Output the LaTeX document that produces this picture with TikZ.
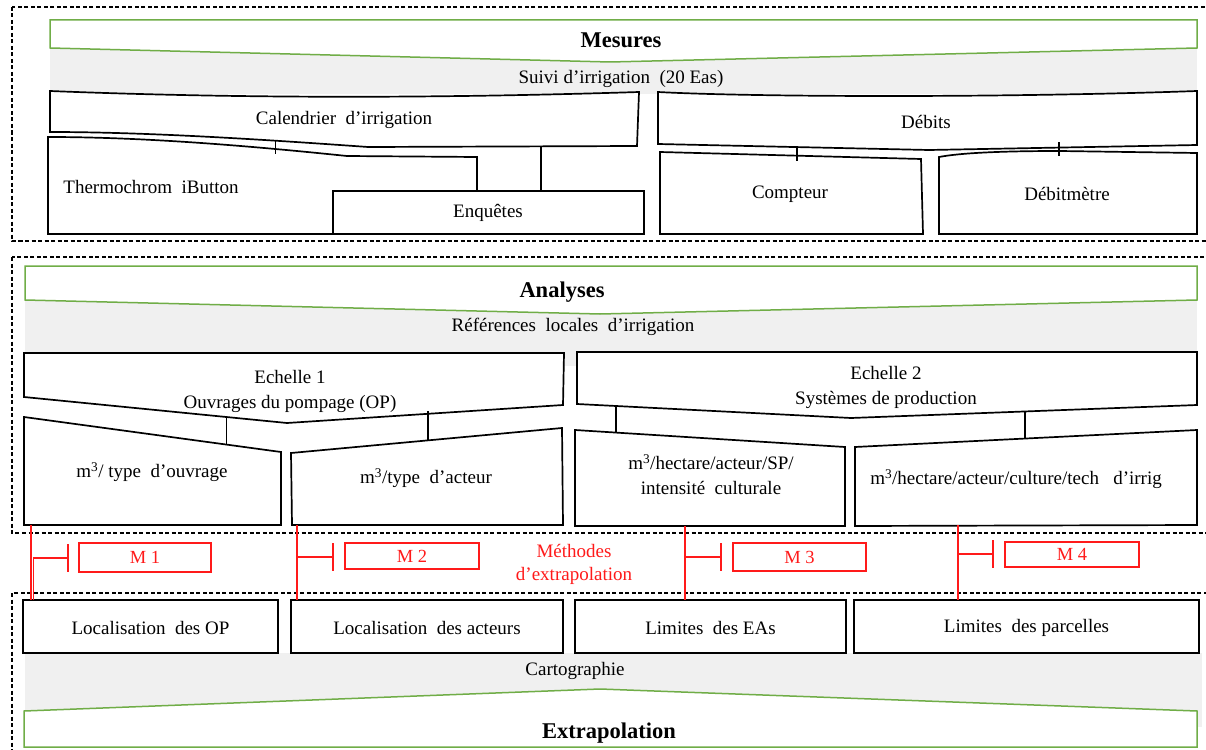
\documentclass[tikz,border=0pt]{standalone}
\usepackage{fontspec}
\setmainfont{Liberation Serif}
\usetikzlibrary{arrows.meta}
\definecolor{grn}{HTML}{70AD47}
\definecolor{lgray}{HTML}{F0F0F0}
\definecolor{rd}{HTML}{FF1A1A}
\begin{document}
\begin{tikzpicture}[x=1pt,y=-1pt,
  every node/.style={font=\fontsize{19}{25}\selectfont, inner sep=0pt, align=center},
  frame/.style={draw=black, dash pattern=on 4pt off 2.5pt, line width=1.2pt},
  band/.style={fill=lgray, draw=none},
  chev/.style={draw=grn, fill=white, line width=1.5pt},
  blk/.style={draw=black, fill=white, line width=1.7pt},
  link/.style={draw=black, line width=1.3pt},
  head/.style={font=\fontsize{22.5}{26}\selectfont\bfseries},
  rtext/.style={text=rd, font=\fontsize{19}{23}\selectfont},
  rbox/.style={draw=rd, line width=1.8pt, text=rd, font=\fontsize{18.5}{22}\selectfont},
  rlink/.style={draw=rd, line width=1.9pt},
  rbar/.style={rlink, -{Bar[width=28pt, line width=1.9pt]}},
]
\useasboundingbox (0,0) rectangle (1206,749);
\clip (0,0) rectangle (1206,749);

% ---------------- Section 1 : Mesures ----------------
\draw[frame] (12,7) rectangle (1216,241);
\fill[band] (50,47) rectangle (1197,94);
\draw[chev] (50,20) -- (1197,20) -- (1197,48) -- (610,62) -- (50,48) -- cycle;
\node[head] (mes) at (621,40) {Mesures};
\node (suivi) at (621,79) {Suivi d’irrigation\ \ (20 Eas)};

\draw[blk] (50,91) .. controls (250,99) and (450,98) .. (639,92) -- (637,146) -- (368,147) .. controls (270,140) and (150,132) .. (50,132) -- cycle;
\node (cal) at (344,120) {Calendrier\ \ d’irrigation};

\draw[blk] (48,137) .. controls (150,137) and (260,147) .. (347,156) -- (477,157) -- (477,191) -- (333,191) -- (333,234) -- (48,234) -- cycle;
\node (thermo) at (151,187) {Thermochrom\ \ iButton};
\draw[blk] (333,191) rectangle (644,234);
\node (enq) at (488,213) {Enquêtes};

\draw[blk] (658,92) .. controls (750,97) and (1000,98) .. (1197,91) -- (1197,145) -- (929,150) -- (658,144) -- cycle;
\node (deb) at (926,122) {Débits};
\draw[blk] (660,152) -- (921,159) -- (923,234) -- (660,234) -- cycle;
\node (compt) at (790,194) {Compteur};
\draw[blk] (939,157) .. controls (960,153) and (1000,151) .. (1060,151) -- (1197,153) -- (1197,234) -- (939,234) -- cycle;
\node (debm) at (1067,194) {Débitmètre};

\coordinate (cal-b1) at (275.5,140);
\coordinate (th-t) at (275.5,154);
\coordinate (cal-b2) at (541,147);
\coordinate (enq-t) at (541,191);
\coordinate (deb-b1) at (797,147);
\coordinate (co-t) at (797,161);
\coordinate (deb-b2) at (1059,142);
\coordinate (dm-t) at (1059,156);
\draw[link] (cal-b1) -- (th-t);
\draw[link] (cal-b2) -- (enq-t);
\draw[link] (deb-b1) -- (co-t);
\draw[link] (deb-b2) -- (dm-t);

% ---------------- Section 2 : Analyses ----------------
\draw[frame] (12,257) rectangle (1216,533);
\fill[band] (25,300) rectangle (1197,366);
\draw[chev] (25,266) -- (1197,266) -- (1197,300) -- (600,314) -- (25,300) -- cycle;
\node[head] (ana) at (562,292) {Analyses};
\node (ref) at (573,327) {Références\ \ locales\ \ d’irrigation};

\draw[blk] (24,353) -- (564,353) -- (563,405) -- (287,423) -- (24,397) -- cycle;
\node (e1) at (290,391) {Echelle 1\\Ouvrages du pompage (OP)};
\draw[blk] (577,352) -- (1197,352) -- (1197,405) -- (851,418) -- (577,404) -- cycle;
\node (e2) at (886,387) {Echelle 2\\Systèmes de production};

\draw[blk] (24,417) -- (281,452) -- (281,525) -- (24,525) -- cycle;
\node (t1) at (152,472) {m\textsuperscript{3}/ type\ \ d’ouvrage};
\draw[blk] (291,453) -- (562,428) -- (563,525) -- (292,525) -- cycle;
\node (t2) at (426,478) {m\textsuperscript{3}/type\ \ d’acteur};
\draw[blk] (575,430) -- (845,447) -- (845,526) -- (575,526) -- cycle;
\node (t3) at (711,475) {m\textsuperscript{3}/hectare/acteur/SP/\\intensité\ \ culturale};
\draw[blk] (855,447) -- (1197,430) -- (1197,525) -- (855,526) -- cycle;
\node (t4) at (1016,479) {m\textsuperscript{3}/hectare/acteur/culture/tech\ \ \ d’irrig};

\coordinate (e1-b1) at (226.5,417);
\coordinate (t1-t) at (226.5,445);
\coordinate (e1-b2) at (428,411);
\coordinate (t2-t) at (428,441);
\coordinate (e2-b1) at (616,406);
\coordinate (t3-t) at (616,433);
\coordinate (e2-b2) at (1025,412);
\coordinate (t4-t) at (1025,438);
\draw[link] (e1-b1) -- (t1-t);
\draw[link] (e1-b2) -- (t2-t);
\draw[link] (e2-b1) -- (t3-t);
\draw[link] (e2-b2) -- (t4-t);

% ---------------- Section 4 : Extrapolation ----------------
\draw[frame] (12,593) rectangle (1216,770);
\fill[band] (25,653) rectangle (1202,727);
\draw[chev] (24,711) -- (600,689) -- (1197,711) -- (1197,747) -- (24,747) -- cycle;
\node (carto) at (575,671) {Cartographie};
\node[head] (extra) at (609,733) {Extrapolation};

\draw[blk] (23,600) rectangle (278,653);
\node (lop) at (150.5,628) {Localisation\ \ des OP};
\draw[blk] (291,600) rectangle (563,653);
\node (lac) at (427,628) {Localisation\ \ des acteurs};
\draw[blk] (575,600) rectangle (846,653);
\node (lea) at (710.5,628) {Limites\ \ des EAs};
\draw[blk] (854,600) rectangle (1199,653);
\node (lpa) at (1026.5,628) {Limites\ \ des parcelles};

% ---------------- Section 3 : méthodes ----------------
\node[rtext] (meth) at (574,564) {Méthodes\\d’extrapolation};
\node[rbox, minimum width=132pt, minimum height=29pt] (m1) at (145,557.5) {M 1};
\node[rbox, minimum width=134pt, minimum height=26pt] (m2) at (412,556) {M 2};
\node[rbox, minimum width=133pt, minimum height=28pt] (m3) at (799.5,557) {M 3};
\node[rbox, minimum width=134pt, minimum height=25pt] (m4) at (1072,554.5) {M 4};

\coordinate (t1-b) at (31,525);
\coordinate (lop-t) at (31,600);
\coordinate (lop-t2) at (33.5,600);
\coordinate (m1-bar) at (69,558);
\coordinate (t2-b) at (297,525);
\coordinate (lac-t) at (297,600);
\coordinate (m2-bar) at (334,557);
\coordinate (t3-b) at (685,526);
\coordinate (lea-t) at (685,600);
\coordinate (m3-bar) at (722,557);
\coordinate (t4-b) at (958,525);
\coordinate (lpa-t) at (958,600);
\coordinate (m4-bar) at (994,554);

\draw[rlink] (t1-b) -- (lop-t);
\draw[rbar] (lop-t2) |- (m1-bar);
\draw[rlink] (t2-b) -- (lac-t);
\draw[rbar] (t2-b |- m2-bar) -- (m2-bar);
\draw[rlink] (t3-b) -- (lea-t);
\draw[rbar] (t3-b |- m3-bar) -- (m3-bar);
\draw[rlink] (t4-b) -- (lpa-t);
\draw[rbar] (t4-b |- m4-bar) -- (m4-bar);
\end{tikzpicture}
\end{document}
